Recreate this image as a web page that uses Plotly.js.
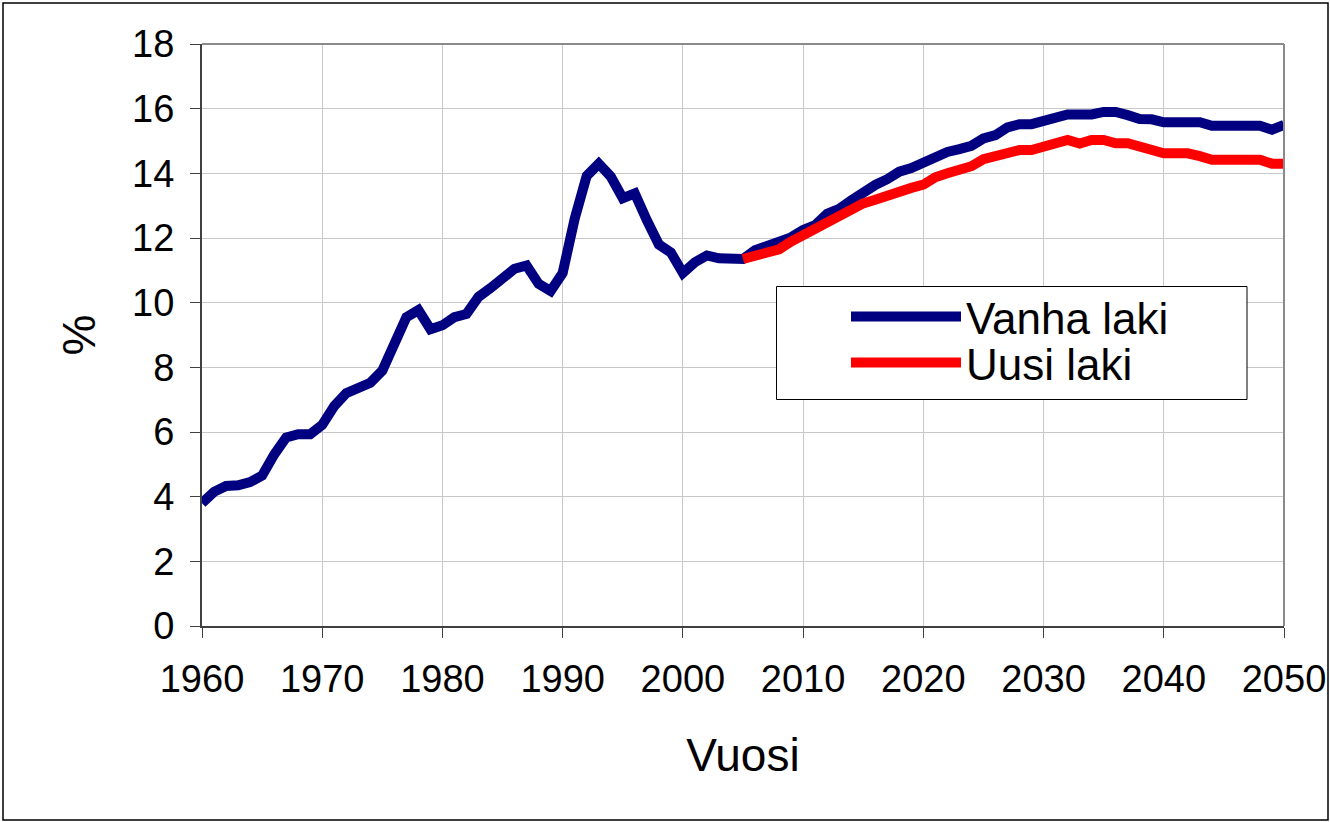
<!DOCTYPE html>
<html>
<head>
<meta charset="utf-8">
<script src="https://cdn.plot.ly/plotly-3.0.1.min.js"></script>
<style>
html,body{margin:0;padding:0;background:#fff;}
#chart{width:1330px;height:822px;}
</style>
</head>
<body>
<div id="chart"></div>
<script>
// Years
const yearsOld = [];
for (let y = 1960; y <= 2050; y++) yearsOld.push(y);
const yearsNew = [];
for (let y = 2005; y <= 2050; y++) yearsNew.push(y);

// Vanha laki (old law), 1960-2050
const vanhaLaki = [
  3.80, 4.15, 4.33, 4.35, 4.45, 4.65, 5.30, 5.83, 5.93, 5.93,
  6.22, 6.80, 7.20, 7.33, 7.52, 7.90, 8.70, 9.55, 9.77, 9.18,
  9.30, 9.55, 9.65, 10.18, 10.45, 10.72, 11.05, 11.15, 10.58, 10.36,
  10.92, 12.60, 13.92, 14.30, 13.90, 13.23, 13.38, 12.55, 11.80, 11.55,
  10.92, 11.25, 11.46, 11.37, 11.35, 11.35, 11.62, 11.73, 11.84, 12.02,
  12.25, 12.40, 12.75, 12.90, 13.16, 13.43, 13.64, 13.82, 14.05, 14.16,
  14.34, 14.45, 14.66, 14.75, 14.85, 15.08, 15.18, 15.42, 15.52, 15.52,
  15.62, 15.74, 15.82, 15.82, 15.82, 15.90, 15.90, 15.80, 15.68, 15.67,
  15.58, 15.58, 15.58, 15.58, 15.47, 15.47, 15.47, 15.47, 15.47, 15.35,
  15.50
];

// Uusi laki (new law), 2005-2050
const uusiLaki = [
  11.35, 11.45, 11.56, 11.65, 11.89, 12.09, 12.30, 12.55, 12.70, 12.88,
  13.07, 13.18, 13.33, 13.44, 13.55, 13.65, 13.88, 14.00, 14.10, 14.22,
  14.44, 14.56, 14.67, 14.72, 14.72, 14.83, 14.95, 15.03, 14.92, 15.03,
  15.03, 14.93, 14.93, 14.82, 14.70, 14.62, 14.62, 14.62, 14.53, 14.42,
  14.42, 14.42, 14.42, 14.42, 14.30, 14.30
];

const seriesNames = ['Vanha laki', 'Uusi laki'];
const xTitle = 'Vuosi';
const yTitle = '%';

const FONT = 'Liberation Sans, Arial, sans-serif';

const traces = [
  {x: yearsOld, y: vanhaLaki, name: seriesNames[0], type: 'scatter', mode: 'lines',
   line: {color: '#000080', width: 10}, legend: 'legend'},
  {x: yearsNew, y: uusiLaki, name: seriesNames[1], type: 'scatter', mode: 'lines',
   line: {color: '#ff0000', width: 10}, legend: 'legend2'}
];

const L = 202, R = 1284, T = 44, B = 626;
const W = R - L, H = B - T;
function px(x) { return (x - L) / W; }
function py(y) { return (B - y) / H; }

const legendCommon = {
  xanchor: 'left', yanchor: 'middle',
  bgcolor: 'rgba(0,0,0,0)', borderwidth: 0,
  font: {family: FONT, size: 44, color: '#000'},
  itemwidth: 110
};

const layout = {
  width: 1330, height: 822,
  margin: {l: L, r: 1330 - R, t: T, b: 822 - B},
  paper_bgcolor: '#ffffff', plot_bgcolor: '#ffffff',
  font: {family: FONT, color: '#000000', size: 38},
  showlegend: true,
  legend: Object.assign({x: px(846), y: py(317)}, legendCommon),
  legend2: Object.assign({x: px(846), y: py(363)}, legendCommon),
  xaxis: {
    range: [1960, 2050], dtick: 10, tick0: 1960,
    showgrid: true, gridcolor: '#c8c8c8', gridwidth: 1,
    zeroline: false,
    showline: true, linecolor: '#404040', linewidth: 2,
    ticks: 'outside', ticklen: 10, tickcolor: '#404040', tickwidth: 1,
    tickfont: {family: FONT, size: 38, color: '#000'},
    ticklabelstandoff: 8,
    title: {text: xTitle, font: {family: FONT, size: 46, color: '#000'}, standoff: 40}
  },
  yaxis: {
    range: [0, 18], dtick: 2, tick0: 0,
    showgrid: true, gridcolor: '#c8c8c8', gridwidth: 1,
    zeroline: false,
    showline: true, linecolor: '#404040', linewidth: 2,
    ticks: 'outside', ticklen: 10, tickcolor: '#404040', tickwidth: 1,
    tickfont: {family: FONT, size: 38, color: '#000'},
    ticklabelstandoff: 8,
    title: {text: yTitle, font: {family: FONT, size: 46, color: '#000'}, standoff: 22}
  },
  shapes: [
    // outer frame
    {type: 'rect', xref: 'paper', yref: 'paper',
     x0: px(3), x1: px(1328), y0: py(820), y1: py(3),
     line: {color: '#000', width: 1.5}, fillcolor: 'rgba(0,0,0,0)', layer: 'below'},
    // top and right plot border
    {type: 'line', xref: 'paper', yref: 'paper', x0: 0, x1: 1, y0: 1, y1: 1,
     line: {color: '#8a8a8a', width: 2}, layer: 'above'},
    {type: 'line', xref: 'paper', yref: 'paper', x0: 1, x1: 1, y0: 0, y1: 1,
     line: {color: '#8a8a8a', width: 2}, layer: 'above'},
    // legend box
    {type: 'rect', xref: 'paper', yref: 'paper',
     x0: px(776.5), x1: px(1247), y0: py(399.5), y1: py(286.5),
     line: {color: '#000', width: 1}, fillcolor: '#ffffff', layer: 'above'}
  ]
};

Plotly.newPlot('chart', traces, layout, {displayModeBar: false, staticPlot: true});
</script>
</body>
</html>
